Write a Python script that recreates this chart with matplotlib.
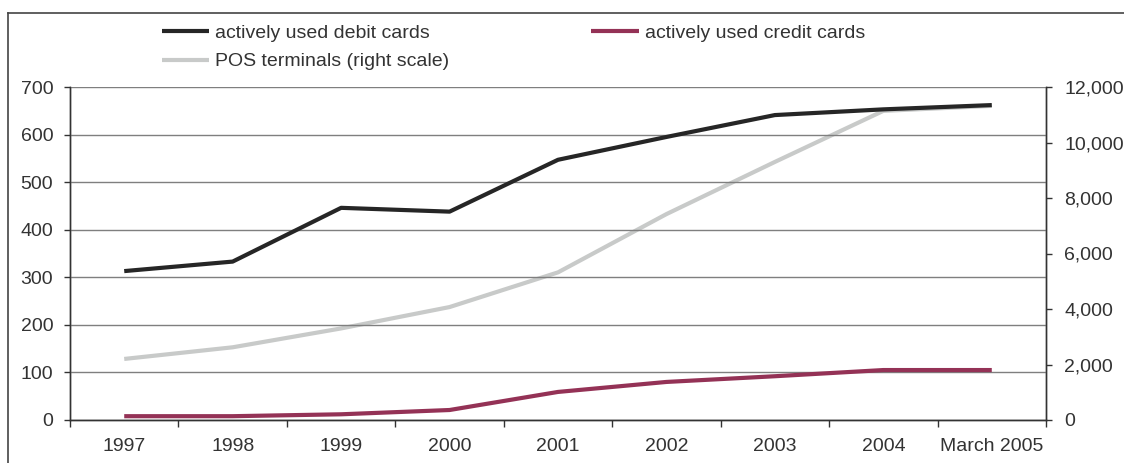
import matplotlib
matplotlib.use("Agg")
import matplotlib.pyplot as plt
from matplotlib.lines import Line2D
import numpy as np

plt.rcParams['font.family'] = ['Liberation Sans', 'DejaVu Sans']

categories = ["1997", "1998", "1999", "2000", "2001", "2002", "2003", "2004", "March 2005"]
debit_cards = [313, 333, 446, 438, 547, 595, 641, 653, 662]
credit_cards = [8, 8, 12, 21, 59, 80, 92, 105, 105]
pos_terminals = [2200, 2620, 3300, 4070, 5320, 7420, 9300, 11140, 11320]

left_ticks = [0, 100, 200, 300, 400, 500, 600, 700]
right_ticks = [0, 2000, 4000, 6000, 8000, 10000, 12000]

txt = "#333333"
fs = 14
fig = plt.figure(figsize=(11.24, 4.63), dpi=100)
ax = fig.add_axes([70/1124, 1-420/463, (1046-70)/1124, (420-87)/463])
ax2 = ax.twinx()

x = np.arange(len(categories))
ax2.plot(x, pos_terminals, color="#c8cac9", lw=3.0, solid_capstyle="butt", zorder=2,
         label="POS terminals (right scale)")
ax.plot(x, debit_cards, color="#262626", lw=3.0, solid_capstyle="butt", zorder=3,
        label="actively used debit cards")
ax.plot(x, credit_cards, color="#943256", lw=3.0, solid_capstyle="butt", zorder=3,
        label="actively used credit cards")

ax.set_zorder(ax2.get_zorder() + 1)
ax.patch.set_visible(False)

ax.set_xlim(-0.5, len(categories) - 0.5)
ax.set_ylim(0, 700)
ax2.set_ylim(0, 12000)
ax.set_yticks(left_ticks)
ax2.set_yticks(right_ticks)
ax2.set_yticklabels([f"{v:,}" for v in right_ticks])

ax.set_xticks(x)
ax.set_xticklabels(categories)
ax.set_xticks(np.arange(-0.5, len(categories), 1.0), minor=True)
ax.tick_params(axis="x", which="major", length=0, pad=13, labelsize=fs, labelcolor=txt)
ax.tick_params(axis="x", which="minor", length=5, width=1, color="#333333", direction="out")
ax.tick_params(axis="y", length=4, width=1, color="#333333", pad=8, labelsize=fs, labelcolor=txt)
ax2.tick_params(axis="y", length=4, width=1, color="#333333", pad=9, labelsize=fs, labelcolor=txt)

ax.yaxis.grid(True, color="#7f7f7f", lw=1)
ax.set_axisbelow(True)
for a in (ax, ax2):
    a.spines["top"].set_visible(False)
    for s in ("left", "right", "bottom"):
        a.spines[s].set_color("#333333")
        a.spines[s].set_linewidth(1)

h1, l1 = ax.get_legend_handles_labels()
h2, l2 = ax2.get_legend_handles_labels()
handles = [h1[0], h2[0], h1[1]]
labels = [l1[0], l2[0], l1[1]]
fig.legend(handles, labels, ncol=2, loc="upper left", bbox_to_anchor=(146/1124, 1-9/463),
           frameon=False, fontsize=fs, handlelength=2.45, handletextpad=0.3,
           columnspacing=7.3, labelspacing=0.55, labelcolor=txt, borderpad=0.3)

# figure frame lines (left and top)
fig.add_artist(Line2D([8/1124, 8/1124], [0, 1-13/463], color="#444444", lw=1.2, transform=fig.transFigure))
fig.add_artist(Line2D([8/1124, 1], [1-13/463, 1-13/463], color="#444444", lw=1.2, transform=fig.transFigure))

fig.savefig("out.png", dpi=100)
